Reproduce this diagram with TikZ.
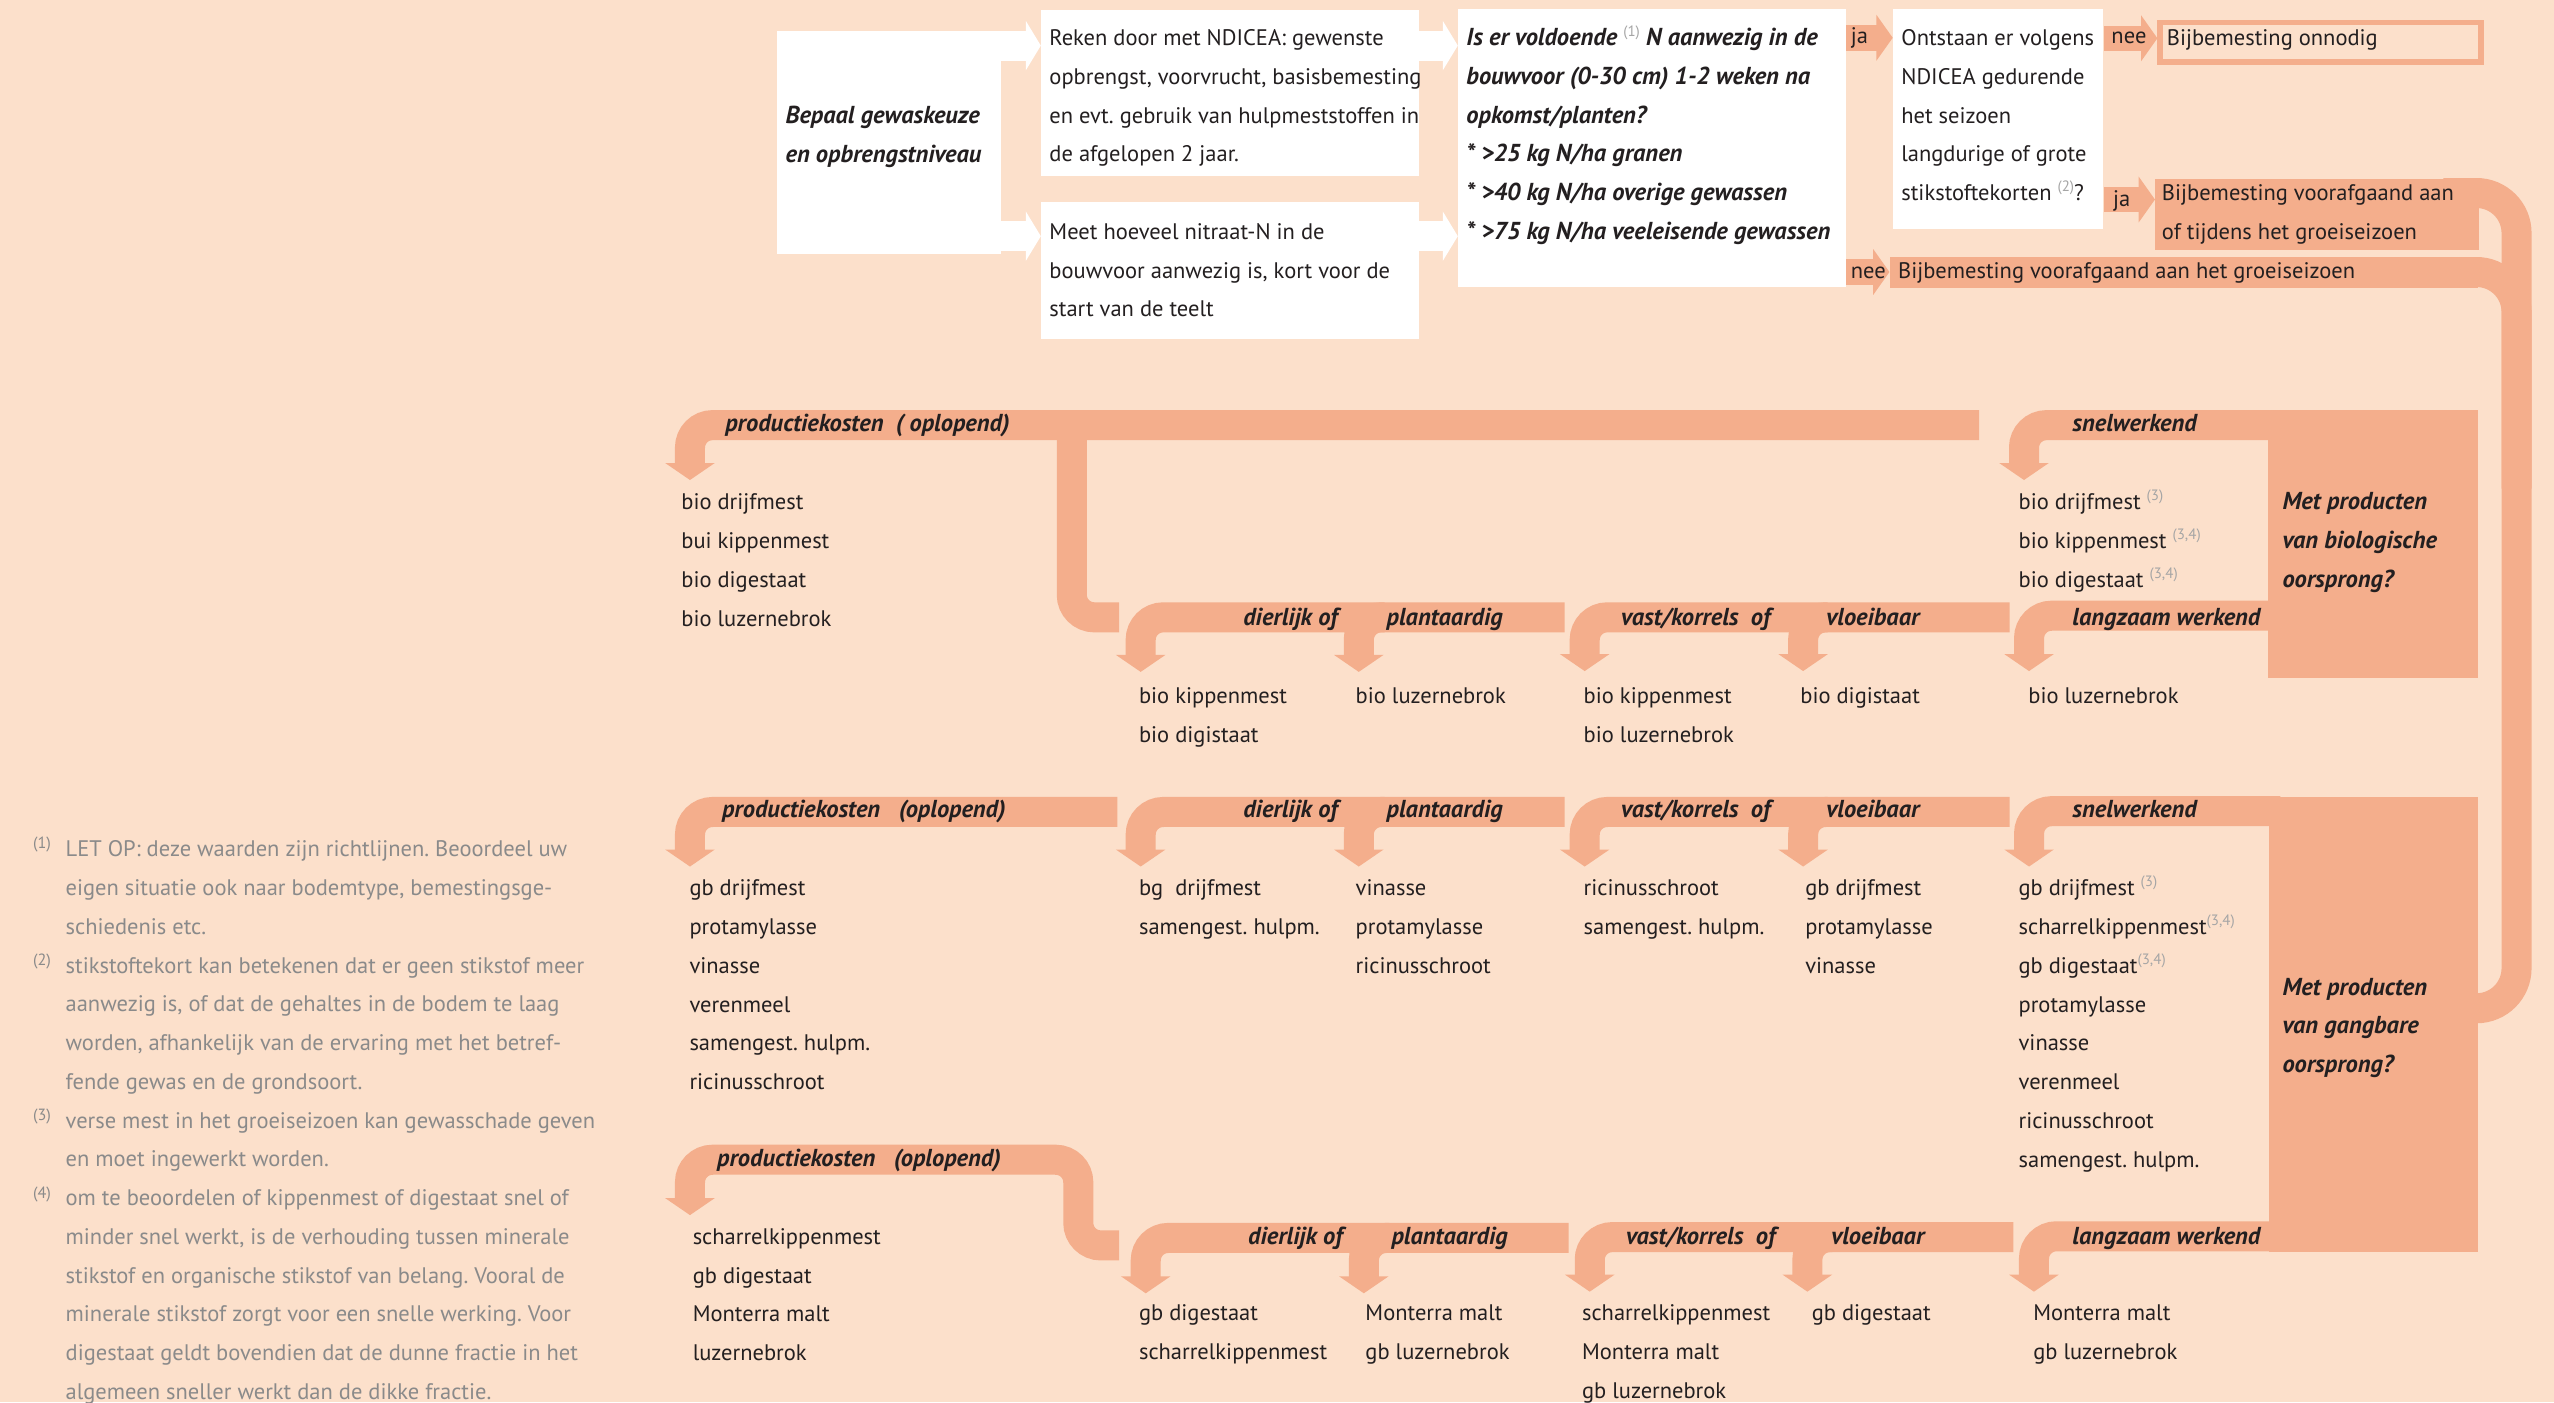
\documentclass[tikz,border=0pt]{standalone}
\usepackage{fontspec}
\setmainfont{PT Sans}
\usetikzlibrary{arrows.meta}

\definecolor{peach}{HTML}{FCE0CB}
\definecolor{salm}{HTML}{F4AE8C}
\definecolor{ink}{HTML}{231F20}
\definecolor{notegray}{HTML}{8A8A8A}
\definecolor{supgray}{HTML}{A5A5A5}
\newcommand{\pxu}{0.6515pt}
\newcommand{\rows}[1]{\begin{tabular}[t]{@{}l@{}}#1\end{tabular}}
\newcommand{\fnref}[1]{\raisebox{3.6pt}{\normalfont\fontsize{6}{7}\selectfont\color{supgray}(#1)}}
\frenchspacing

\begin{document}
\begin{tikzpicture}[x=0.6515pt,y=-0.6515pt,
		every node/.style={inner sep=0,text=ink,font=\fontsize{9}{15.5}\selectfont},
		txt/.style={anchor=base west},
		bi/.style={anchor=base west,font=\fontsize{9.8}{15.5}\selectfont\bfseries\itshape},
		note/.style={anchor=base west,text=notegray},
		wbox/.style={fill=white,anchor=north west},
		sbox/.style={fill=salm,anchor=north west},
		band/.style={draw=salm,line width=12pt,rounded corners=9pt,-{Triangle[width=19.5pt,length=6.8pt]}},
		bandend/.style={draw=salm,line width=12pt,rounded corners=9pt},
		bigband/.style={draw=salm,line width=12pt,rounded corners=16pt},
		whitearr/.style={draw=white,line width=12pt,-{Triangle[width=19.5pt,length=6pt]}},
		pointer/.style={draw=salm,line width=10.2pt,-{Triangle[width=18pt,length=6.5pt]}}]

	\fill[peach] (0,0) rectangle (1568,861);
	\useasboundingbox (0,0) rectangle (1568,861);

	% top row
	\node[wbox,minimum width=137*\pxu,minimum height=136.5*\pxu] (gewas) at (477,19) {};
	\node[wbox,minimum width=231.8*\pxu,minimum height=102.3*\pxu] (ndicea) at (639,5.7) {};
	\node[wbox,minimum width=231.8*\pxu,minimum height=83.7*\pxu] (nitraat) at (639,124) {};
	\node[wbox,minimum width=237.8*\pxu,minimum height=171*\pxu] (voldoende) at (895,5) {};
	\node[wbox,minimum width=129*\pxu,minimum height=134.5*\pxu] (tekort) at (1162,5.5) {};
	\node[draw=salm,line width=2.2pt,anchor=north west,minimum width=197*\pxu,minimum height=24.4*\pxu] (onnodig) at (1324.5,12.1) {};
	\node[sbox,minimum width=198.6*\pxu,minimum height=43.5*\pxu] (tijdens) at (1323,109.5) {};
	\node[sbox,minimum width=361*\pxu,minimum height=19.4*\pxu] (vooraf) at (1160,157.3) {};

	\draw[whitearr] (gewas.east |- 0,28) -- (ndicea.west |- 0,28);
	\draw[whitearr] (gewas.east |- 0,145) -- (nitraat.west |- 0,145);
	\draw[whitearr] (ndicea.east |- 0,28) -- (voldoende.west |- 0,28);
	\draw[whitearr] (nitraat.east |- 0,145) -- (voldoende.west |- 0,145);
	\draw[pointer] (voldoende.east |- 0,23.2) -- (tekort.west |- 0,23.2);
	\draw[pointer] (tekort.east |- 0,23.5) -- (onnodig.west |- 0,23.5);
	\draw[pointer] (tekort.east |- 0,122.5) -- (tijdens.west |- 0,122.5);
	\draw[pointer] (voldoende.east |- 0,167) -- (vooraf.west |- 0,167);

	\draw[bigband] (1500,118.5) -- (1545,118.5) -- (1545,619) -- (1505,619);
	\draw[bigband] (1505,167) -- (1545,167) -- (1545,300);

	% question boxes
	\node[sbox,minimum width=129*\pxu,minimum height=164*\pxu] (bio) at (1392,251.7) {};
	\node[sbox,minimum width=128.5*\pxu,minimum height=279.5*\pxu] (gangbaar) at (1392.5,489) {};

	\draw[band] (1400,261) -- (1242.6,261) -- (1242.6,294.7);
	\draw[band] (1400,378) -- (1245.7,378) -- (1245.7,412);
	\draw[band] (1215,261) -- (423.6,261) -- (423.6,294.7);
	\draw[bandend] (658,261) -- (658,379) -- (687,379);
	\draw[band] (960.6,379) -- (700.3,379) -- (700.3,412.5);
	\draw[band] (850,379) -- (834.2,379) -- (834.2,412.5);
	\draw[band] (1233.7,379) -- (972.9,379) -- (972.9,412);
	\draw[band] (1122,379) -- (1107,379) -- (1107,412);

	\draw[band] (686,498.5) -- (423.6,498.5) -- (423.6,532);
	\draw[band] (960.6,498.5) -- (700.3,498.5) -- (700.3,532);
	\draw[band] (850,498.5) -- (834.2,498.5) -- (834.2,532);
	\draw[band] (1233.7,498.5) -- (972.9,498.5) -- (972.9,532);
	\draw[band] (1122,498.5) -- (1107,498.5) -- (1107,532);
	\draw[band] (1400,498) -- (1245.7,498) -- (1245.7,532);

	\draw[band] (687,764.6) -- (662,764.6) -- (662,712) -- (423.6,712) -- (423.6,746);
	\draw[band] (963,760) -- (703.4,760) -- (703.4,794);
	\draw[band] (853,760) -- (837.3,760) -- (837.3,794);
	\draw[band] (1236,759.5) -- (976,759.5) -- (976,793);
	\draw[band] (1125,759.5) -- (1109.6,759.5) -- (1109.6,793);
	\draw[band] (1400,759) -- (1248.7,759) -- (1248.7,793);

	% texts of the top row
	\node[bi] (gewastxt) at (482,76) {\rows{Bepaal gewaskeuze\\en opbrengstniveau}};
	\node[txt] (ndiceatxt) at (644,28) {\rows{Reken door met NDICEA: gewenste\\opbrengst, voorvrucht, basisbemesting\\en evt. gebruik van hulpmeststoffen in\\de afgelopen 2 jaar.}};
	\node[txt] (nitraattxt) at (644,147) {\rows{Meet hoeveel nitraat-N in de\\bouwvoor aanwezig is, kort voor de\\start van de teelt}};
	\node[bi] (voldoendetxt) at (900,28) {\rows{Is er voldoende \fnref{1} N aanwezig in de\\bouwvoor (0-30 cm) 1-2 weken na\\opkomst/planten?\\{*} >25 kg N/ha granen\\{*} >40 kg N/ha overige gewassen\\{*} >75 kg N/ha veeleisende gewassen}};
	\node[txt] (tekorttxt) at (1167,28) {\rows{Ontstaan er volgens\\NDICEA gedurende\\het seizoen\\langdurige of grote\\stikstoftekorten \fnref{2}?}};
	\node[txt] (onnodigtxt) at (1330,28) {Bijbemesting onnodig};
	\node[txt] (tijdenstxt) at (1327,123) {\rows{Bijbemesting voorafgaand aan\\of tijdens het groeiseizoen}};
	\node[txt] (voorafgtxt) at (1165,171) {Bijbemesting voorafgaand aan het groeiseizoen};
	\node[txt] (ja1) at (1136,27) {ja};
	\node[txt] (nee1) at (1296,27) {nee};
	\node[txt] (ja2) at (1297,127) {ja};
	\node[txt] (nee2) at (1136,171) {nee};

	% labels on the bands
	\node[bi] (biovraag) at (1401,313) {\rows{Met producten\\van biologische\\oorsprong?}};
	\node[bi] (gbvraag) at (1401,611) {\rows{Met producten\\van gangbare\\oorsprong?}};
	\node[bi] (kost1) at (445,265) {productiekosten\ \ ( oplopend)};
	\node[bi] (dier1) at (763,384) {dierlijk of};
	\node[bi] (plant1) at (851,384) {plantaardig};
	\node[bi] (vast1) at (995,384) {vast/korrels\ \ of};
	\node[bi] (vloei1) at (1121,384) {vloeibaar};
	\node[bi] (snel1) at (1272,265) {snelwerkend};
	\node[bi] (langz1) at (1272,384) {langzaam werkend};
	\node[bi] (kost2) at (443,502) {productiekosten\ \ \ (oplopend)};
	\node[bi] (dier2) at (763,502) {dierlijk of};
	\node[bi] (plant2) at (851,502) {plantaardig};
	\node[bi] (vast2) at (995,502) {vast/korrels\ \ of};
	\node[bi] (vloei2) at (1121,502) {vloeibaar};
	\node[bi] (snel2) at (1272,502) {snelwerkend};
	\node[bi] (kost3) at (440,716) {productiekosten\ \ \ (oplopend)};
	\node[bi] (dier3) at (766,764) {dierlijk of};
	\node[bi] (plant3) at (854,764) {plantaardig};
	\node[bi] (vast3) at (998,764) {vast/korrels\ \ of};
	\node[bi] (vloei3) at (1124,764) {vloeibaar};
	\node[bi] (langz3) at (1272,764) {langzaam werkend};

	% product lists
	\node[txt] (biokost) at (418,313) {\rows{bio drijfmest\\bui kippenmest\\bio digestaat\\bio luzernebrok}};
	\node[txt] (biodier) at (699,432) {\rows{bio kippenmest\\bio digistaat}};
	\node[txt] (bioplant) at (832,432) {bio luzernebrok};
	\node[txt] (biovast) at (972,432) {\rows{bio kippenmest\\bio luzernebrok}};
	\node[txt] (biovloei) at (1105,432) {bio digistaat};
	\node[txt] (biosnel) at (1239,313) {\rows{bio drijfmest \fnref{3}\\bio kippenmest \fnref{3,4}\\bio digestaat \fnref{3,4}}};
	\node[txt] (biolangz) at (1245,432) {bio luzernebrok};

	\node[txt] (gbkost) at (423,550) {\rows{gb drijfmest\\protamylasse\\vinasse\\verenmeel\\samengest. hulpm.\\ricinusschroot}};
	\node[txt] (gbdier) at (699,550) {\rows{bg\ \ drijfmest\\samengest. hulpm.}};
	\node[txt] (gbplant) at (832,550) {\rows{vinasse\\protamylasse\\ricinusschroot}};
	\node[txt] (gbvast) at (972,550) {\rows{ricinusschroot\\samengest. hulpm.}};
	\node[txt] (gbvloei) at (1108,550) {\rows{gb drijfmest\\protamylasse\\vinasse}};
	\node[txt] (gbsnel) at (1239,550) {\rows{gb drijfmest \fnref{3}\\scharrelkippenmest\fnref{3,4}\\gb digestaat\fnref{3,4}\\protamylasse\\vinasse\\verenmeel\\ricinusschroot\\samengest. hulpm.}};

	\node[txt] (gbkost3) at (425,764) {\rows{scharrelkippenmest\\gb digestaat\\Monterra malt\\luzernebrok}};
	\node[txt] (gbdier3) at (699,811) {\rows{gb digestaat\\scharrelkippenmest}};
	\node[txt] (gbplant3) at (838,811) {\rows{Monterra malt\\gb luzernebrok}};
	\node[txt] (gbvast3) at (971,811) {\rows{scharrelkippenmest\\Monterra malt\\gb luzernebrok}};
	\node[txt] (gbvloei3) at (1112,811) {gb digestaat};
	\node[txt] (gblangz) at (1248,811) {\rows{Monterra malt\\gb luzernebrok}};

	% footnotes
	\node[note,font=\fontsize{6.5}{8}\selectfont] (fn1) at (20,521) {(1)};
	\node[note,font=\fontsize{6.5}{8}\selectfont] (fn2) at (20,593) {(2)};
	\node[note,font=\fontsize{6.5}{8}\selectfont] (fn3) at (20,688) {(3)};
	\node[note,font=\fontsize{6.5}{8}\selectfont] (fn4) at (20,736) {(4)};
	\node[note] (notes) at (40,526) {\rows{LET OP: deze waarden zijn richtlijnen. Beoordeel uw\\eigen situatie ook naar bodemtype, bemestingsge-\\schiedenis etc.\\stikstoftekort kan betekenen dat er geen stikstof meer\\aanwezig is, of dat de gehaltes in de bodem te laag\\worden, afhankelijk van de ervaring met het betref-\\fende gewas en de grondsoort.\\verse mest in het groeiseizoen kan gewasschade geven\\en moet ingewerkt worden.\\om te beoordelen of kippenmest of digestaat snel of\\minder snel werkt, is de verhouding tussen minerale\\stikstof en organische stikstof van belang. Vooral de\\minerale stikstof zorgt voor een snelle werking. Voor\\digestaat geldt bovendien dat de dunne fractie in het\\algemeen sneller werkt dan de dikke fractie.}};

\end{tikzpicture}
\end{document}
